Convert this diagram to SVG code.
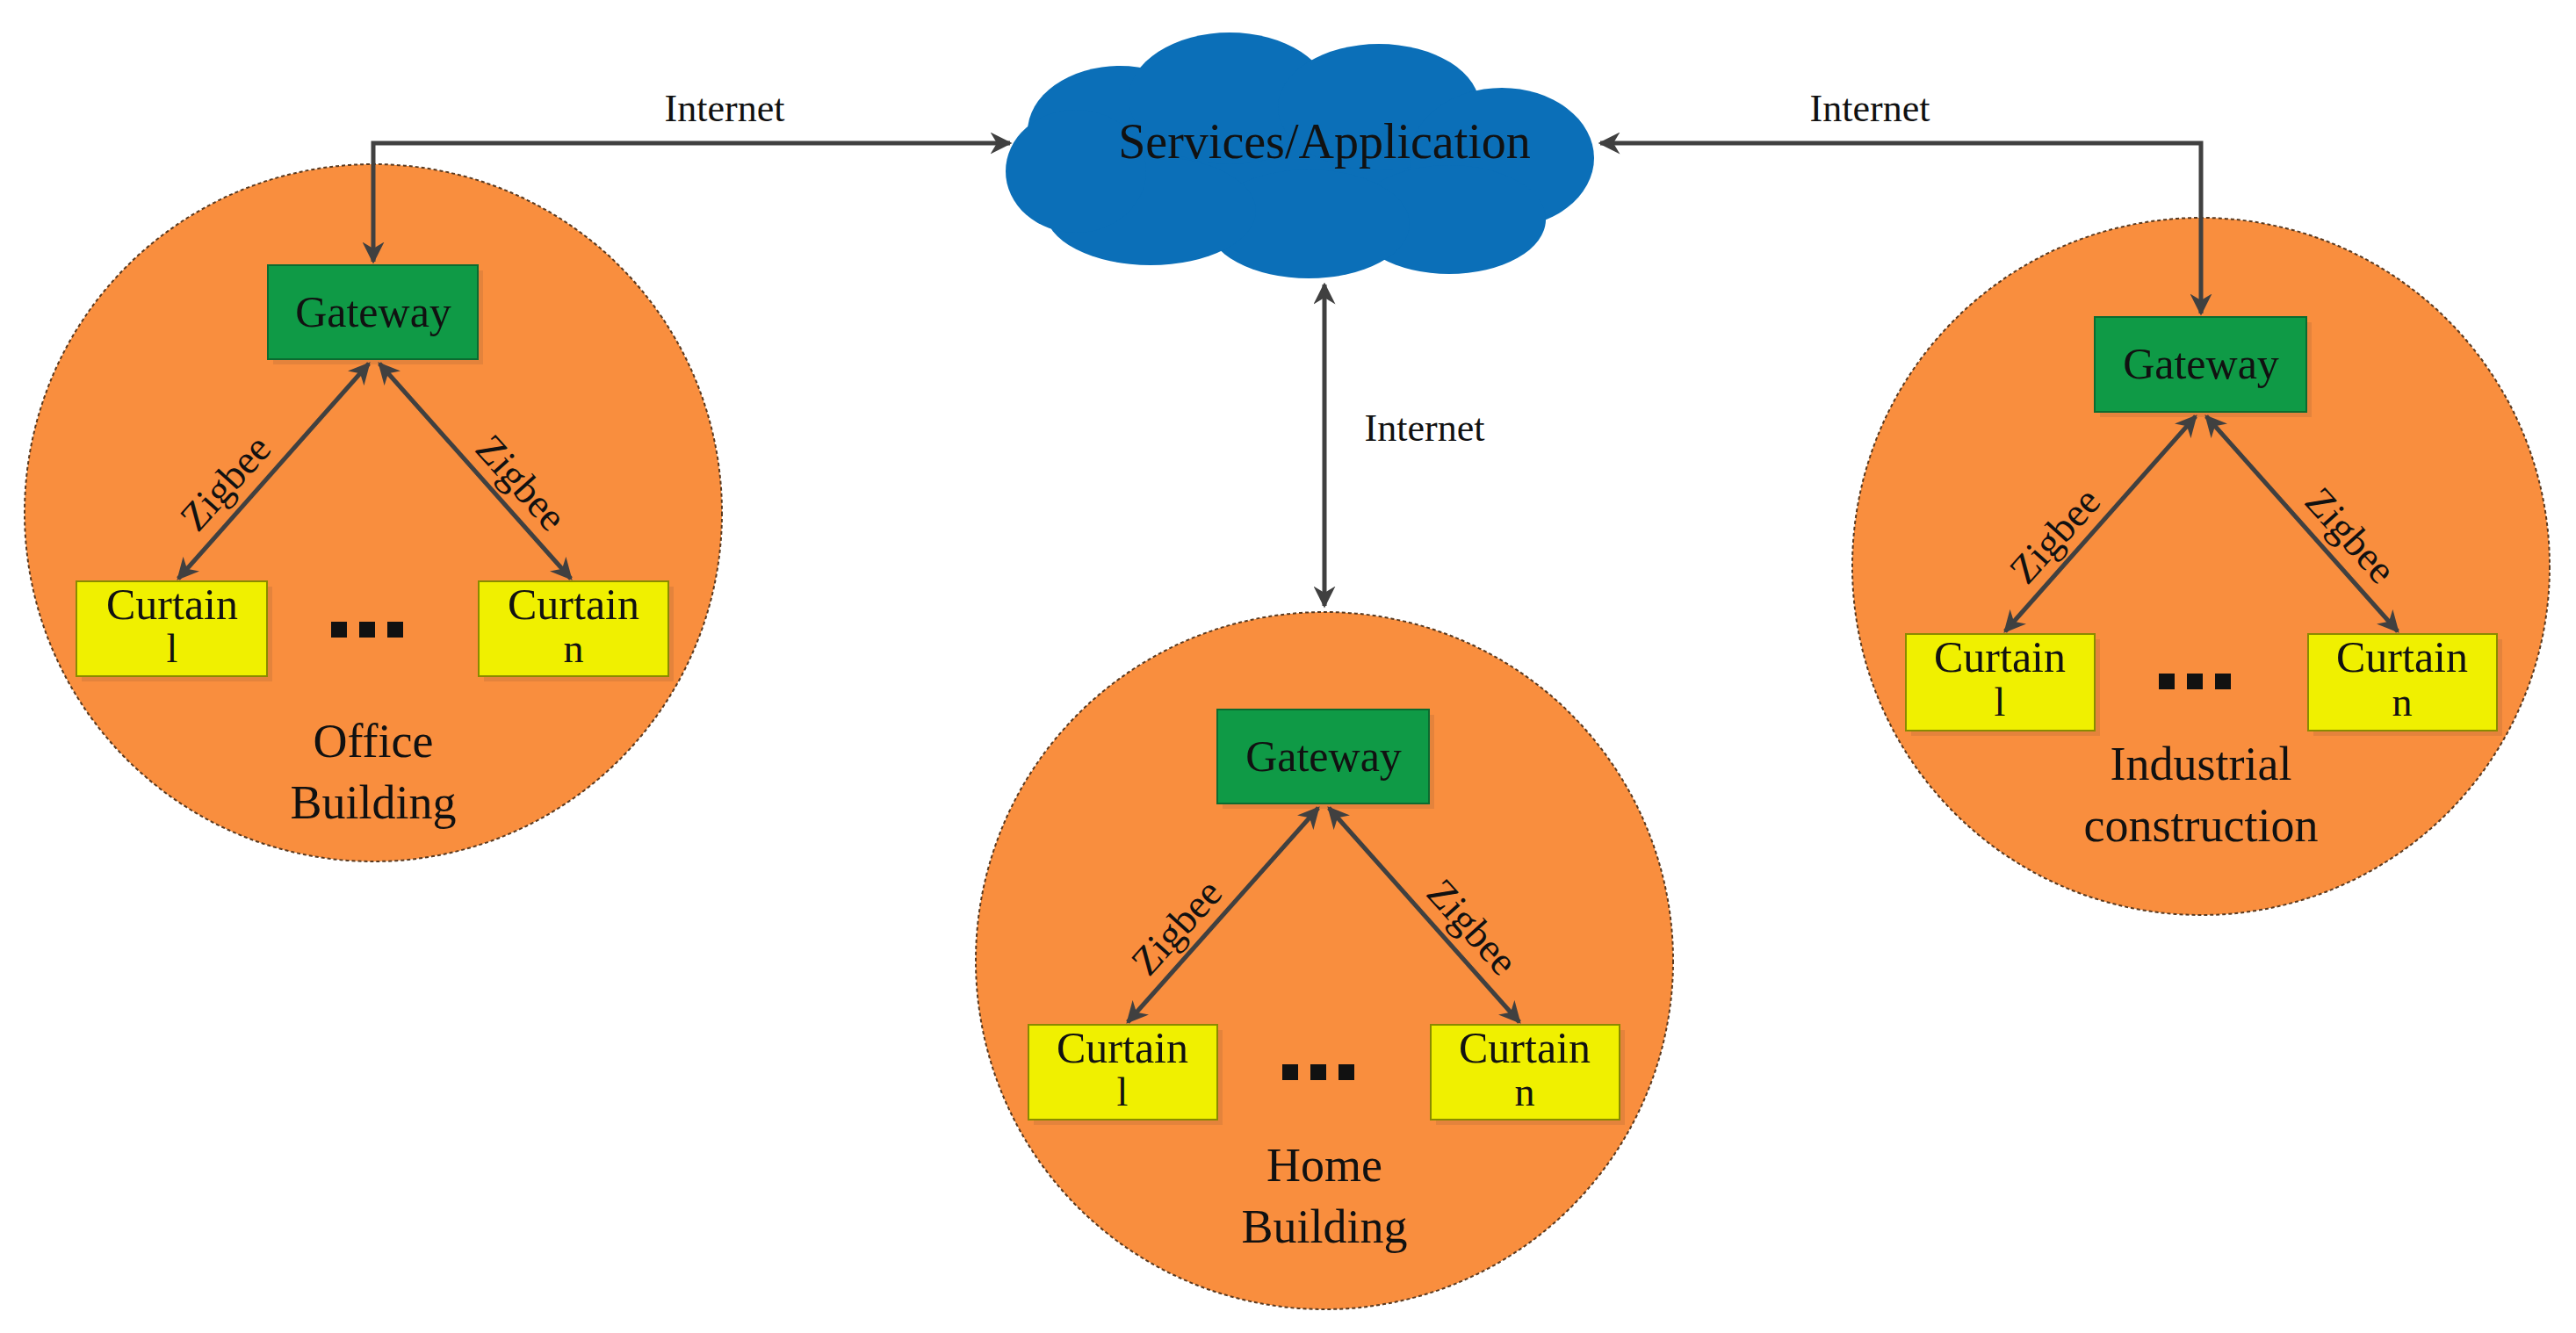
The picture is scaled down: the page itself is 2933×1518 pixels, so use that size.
<svg xmlns="http://www.w3.org/2000/svg" width="2933" height="1518" viewBox="0 0 2933 1518">
<style>
.circ{fill:#F98E3E;stroke:#5a3a20;stroke-width:2;stroke-dasharray:4 3}
.gw{fill:#0F9A46;stroke:#0b6b30;stroke-width:2}
.ct{fill:#F0F000;stroke:#8a8a00;stroke-width:2}
.sh{fill:#c9753a;opacity:0.45}
.t{font-family:"Liberation Serif",serif;fill:#111;text-anchor:middle}
.con{stroke:#404040;stroke-width:5;fill:none}
.dot{fill:#111}
</style>
<defs>
<marker id="ah" viewBox="0 0 10 10" refX="9" refY="5" markerWidth="5" markerHeight="5" orient="auto-start-reverse" markerUnits="strokeWidth">
<path d="M0,0 L10,5 L0,10 L3,5 z" fill="#404040"/>
</marker>
</defs>
<rect width="2933" height="1518" fill="#fff"/>

<g id="cloud">
<g fill="#0B6FB8">
<ellipse cx="1480" cy="180" rx="300" ry="100"/>
<ellipse cx="1275" cy="150" rx="105" ry="75"/>
<ellipse cx="1400" cy="112" rx="115" ry="75"/>
<ellipse cx="1570" cy="122" rx="115" ry="72"/>
<ellipse cx="1710" cy="180" rx="105" ry="80"/>
<ellipse cx="1650" cy="250" rx="110" ry="62"/>
<ellipse cx="1490" cy="255" rx="115" ry="62"/>
<ellipse cx="1310" cy="240" rx="120" ry="62"/>
<ellipse cx="1225" cy="195" rx="80" ry="70"/>
</g>
<text class="t" x="1508" y="180" font-size="56">Services/Application</text>
</g>

<g id="office">
<circle class="circ" cx="425" cy="584" r="397"/>
<rect class="sh" x="311" y="308" width="239" height="107"/>
<rect class="gw" x="305" y="302" width="239" height="107"/>
<text class="t" x="425" y="372" font-size="50">Gateway</text>
<rect class="sh" x="93" y="668" width="217" height="108"/>
<rect class="ct" x="87" y="662" width="217" height="108"/>
<text class="t" x="196" y="705" font-size="50">Curtain</text>
<text class="t" x="196" y="754" font-size="46">l</text>
<rect class="sh" x="551" y="668" width="216" height="108"/>
<rect class="ct" x="545" y="662" width="216" height="108"/>
<text class="t" x="653" y="705" font-size="50">Curtain</text>
<text class="t" x="653" y="754" font-size="46">n</text>
<rect class="dot" x="377" y="708" width="18" height="18"/><rect class="dot" x="409" y="708" width="18" height="18"/><rect class="dot" x="441" y="708" width="18" height="18"/>
<text class="t" x="425" y="862" font-size="54">Office</text>
<text class="t" x="425" y="932" font-size="54">Building</text>
</g>

<g id="home">
<circle class="circ" cx="1508" cy="1094" r="397"/>
<rect class="sh" x="1392" y="814" width="241" height="107"/>
<rect class="gw" x="1386" y="808" width="241" height="107"/>
<text class="t" x="1507" y="878" font-size="50">Gateway</text>
<rect class="sh" x="1177" y="1173" width="215" height="108"/>
<rect class="ct" x="1171" y="1167" width="215" height="108"/>
<text class="t" x="1278" y="1210" font-size="50">Curtain</text>
<text class="t" x="1278" y="1259" font-size="46">l</text>
<rect class="sh" x="1635" y="1173" width="215" height="108"/>
<rect class="ct" x="1629" y="1167" width="215" height="108"/>
<text class="t" x="1736" y="1210" font-size="50">Curtain</text>
<text class="t" x="1736" y="1259" font-size="46">n</text>
<rect class="dot" x="1460" y="1212" width="18" height="18"/><rect class="dot" x="1492" y="1212" width="18" height="18"/><rect class="dot" x="1524" y="1212" width="18" height="18"/>
<text class="t" x="1508" y="1345" font-size="54">Home</text>
<text class="t" x="1508" y="1415" font-size="54">Building</text>
</g>

<g id="industrial">
<circle class="circ" cx="2506" cy="645" r="397"/>
<rect class="sh" x="2391" y="367" width="241" height="108"/>
<rect class="gw" x="2385" y="361" width="241" height="108"/>
<text class="t" x="2506" y="431" font-size="50">Gateway</text>
<rect class="sh" x="2176" y="728" width="215" height="110"/>
<rect class="ct" x="2170" y="722" width="215" height="110"/>
<text class="t" x="2277" y="765" font-size="50">Curtain</text>
<text class="t" x="2277" y="815" font-size="46">l</text>
<rect class="sh" x="2634" y="728" width="215" height="110"/>
<rect class="ct" x="2628" y="722" width="215" height="110"/>
<text class="t" x="2735" y="765" font-size="50">Curtain</text>
<text class="t" x="2735" y="815" font-size="46">n</text>
<rect class="dot" x="2458" y="767" width="18" height="18"/><rect class="dot" x="2490" y="767" width="18" height="18"/><rect class="dot" x="2522" y="767" width="18" height="18"/>
<text class="t" x="2506" y="888" font-size="54">Industrial</text>
<text class="t" x="2506" y="958" font-size="54">construction</text>
</g>

<g id="connectors">
<path class="con" d="M1150,163 H425 V298" marker-start="url(#ah)" marker-end="url(#ah)"/>
<path class="con" d="M1822,163 H2506 V357" marker-start="url(#ah)" marker-end="url(#ah)"/>
<path class="con" d="M1508,324 V690" marker-start="url(#ah)" marker-end="url(#ah)"/>
<path class="con" d="M420,414 L203,659" marker-start="url(#ah)" marker-end="url(#ah)"/>
<path class="con" d="M432,414 L650,659" marker-start="url(#ah)" marker-end="url(#ah)"/>
<path class="con" d="M1501,920 L1284,1164" marker-start="url(#ah)" marker-end="url(#ah)"/>
<path class="con" d="M1513,920 L1730,1164" marker-start="url(#ah)" marker-end="url(#ah)"/>
<path class="con" d="M2500,474 L2283,719" marker-start="url(#ah)" marker-end="url(#ah)"/>
<path class="con" d="M2512,474 L2730,719" marker-start="url(#ah)" marker-end="url(#ah)"/>
<text class="t" x="825" y="138" font-size="44">Internet</text>
<text class="t" x="2129" y="138" font-size="44">Internet</text>
<text class="t" x="1622" y="502" font-size="44">Internet</text>
<text class="t" font-size="46" transform="translate(268,560) rotate(-48)">Zigbee</text>
<text class="t" font-size="46" transform="translate(582,560) rotate(48)">Zigbee</text>
<text class="t" font-size="46" transform="translate(1351,1066) rotate(-48)">Zigbee</text>
<text class="t" font-size="46" transform="translate(1665,1066) rotate(48)">Zigbee</text>
<text class="t" font-size="46" transform="translate(2351,620) rotate(-48)">Zigbee</text>
<text class="t" font-size="46" transform="translate(2665,620) rotate(48)">Zigbee</text>
</g>
</svg>
